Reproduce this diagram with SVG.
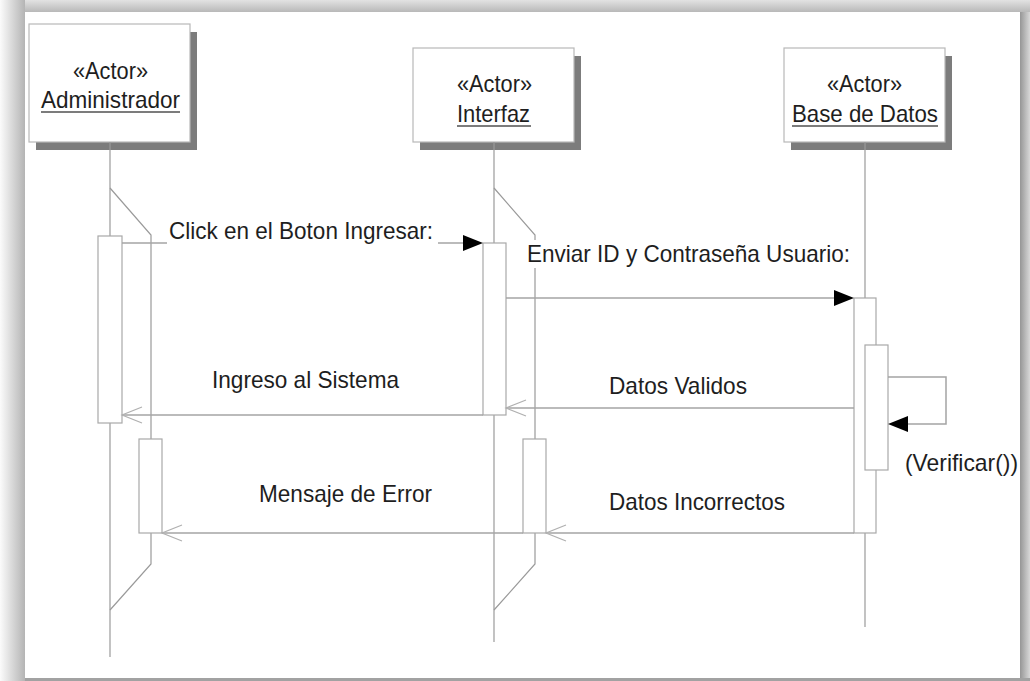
<svg xmlns="http://www.w3.org/2000/svg" width="1030" height="681" viewBox="0 0 1030 681">
<defs>
<linearGradient id="gl" x1="0" y1="0" x2="1" y2="0"><stop offset="0" stop-color="#fbfbfb"/><stop offset="1" stop-color="#b4b4b4"/></linearGradient>
<linearGradient id="gt" x1="0" y1="0" x2="0" y2="1"><stop offset="0" stop-color="#e2e2e2"/><stop offset="1" stop-color="#b8b8b8"/></linearGradient>
<linearGradient id="gr" x1="0" y1="0" x2="1" y2="0"><stop offset="0" stop-color="#969696"/><stop offset="1" stop-color="#d8d8d8"/></linearGradient>
<style>
.box{fill:#fff;stroke:#b8b8b8;stroke-width:1.2}
.shadow{fill:#7c7c7c}
.life{fill:none;stroke:#9a9a9a;stroke-width:1.2}
.act{fill:#fff;stroke:#a8a8a8;stroke-width:1.2}
.msg{fill:none;stroke:#a4a4a4;stroke-width:1.5}
.open{fill:none;stroke:#b0b0b0;stroke-width:1.2}
.fill{fill:#000}
.t{font-family:"Liberation Sans",Arial,sans-serif;font-size:24px;fill:#1e1e1e}
.u{stroke:#505050;stroke-width:1.6}
.bg{fill:#fff}
</style>
</defs>
<rect x="0" y="0" width="1030" height="681" fill="#fff"/>
<rect x="0" y="0" width="25" height="681" fill="url(#gl)"/>
<rect x="25" y="0" width="1005" height="12" fill="url(#gt)"/>
<rect x="1020" y="12" width="10" height="669" fill="url(#gr)"/>
<rect x="25" y="678" width="1005" height="3" fill="#a2a2a2"/>

<g id="admin">
<rect class="shadow" x="36" y="32" width="161" height="118"/>
<rect class="box" x="29" y="24" width="161" height="118"/>
<text class="t" x="73" y="79" textLength="75" lengthAdjust="spacingAndGlyphs">«Actor»</text>
<text class="t" x="41" y="108" textLength="139" lengthAdjust="spacingAndGlyphs">Administrador</text>
<line class="u" x1="41" y1="112" x2="180" y2="112"/>
<line class="life" x1="110" y1="142" x2="110" y2="657"/>
<polyline class="life" points="110,188 151,235 151,439"/>
<polyline class="life" points="151,533 151,564 110,610"/>
<rect class="act" x="98" y="236" width="24" height="187"/>
<rect class="act" x="139" y="439" width="23" height="94"/>
</g>

<g id="interfaz">
<rect class="shadow" x="420" y="56" width="161" height="94"/>
<rect class="box" x="413" y="48" width="161" height="94"/>
<text class="t" x="457" y="92" textLength="75" lengthAdjust="spacingAndGlyphs">«Actor»</text>
<text class="t" x="457" y="122" textLength="73" lengthAdjust="spacingAndGlyphs">Interfaz</text>
<line class="u" x1="457" y1="126" x2="531" y2="126"/>
<line class="life" x1="494" y1="142" x2="494" y2="642"/>
<polyline class="life" points="494,188 535,235 535,439"/>
<polyline class="life" points="535,533 535,564 494,610"/>
<rect class="act" x="483" y="243" width="23" height="172"/>
<rect class="act" x="523" y="439" width="23" height="94"/>
</g>

<g id="base">
<rect class="shadow" x="791" y="56" width="161" height="94"/>
<rect class="box" x="784" y="48" width="161" height="94"/>
<text class="t" x="827" y="92" textLength="75" lengthAdjust="spacingAndGlyphs">«Actor»</text>
<text class="t" x="792" y="122" textLength="146" lengthAdjust="spacingAndGlyphs">Base de Datos</text>
<line class="u" x1="792" y1="126" x2="938" y2="126"/>
<line class="life" x1="865" y1="142" x2="865" y2="627"/>
<rect class="act" x="854" y="298" width="22" height="235"/>
<rect class="act" x="865" y="345" width="23" height="125"/>
</g>

<g id="connectors">
<g id="m1">
<line class="msg" x1="122" y1="243" x2="464" y2="243"/>
<polygon class="fill" points="483,243 463,235 463,251"/>
<rect class="bg" x="167" y="219" width="271" height="27"/>
<text class="t" x="169" y="239" textLength="264" lengthAdjust="spacingAndGlyphs">Click en el Boton Ingresar:</text>
</g>
<g id="m2">
<line class="msg" x1="506" y1="298" x2="835" y2="298"/>
<polygon class="fill" points="854,298 834,290 834,306"/>
<rect class="bg" x="524" y="240" width="329" height="28"/>
<text class="t" x="527" y="262" textLength="323" lengthAdjust="spacingAndGlyphs">Enviar ID y Contraseña Usuario:</text>
</g>
<g id="m3">
<line class="msg" x1="854" y1="408" x2="506" y2="408"/>
<polyline class="open" points="526,400 506,408 526,416"/>
<text class="t" x="609" y="394" textLength="138" lengthAdjust="spacingAndGlyphs">Datos Validos</text>
</g>
<g id="m4">
<line class="msg" x1="483" y1="415" x2="122" y2="415"/>
<polyline class="open" points="142,407 122,415 142,423"/>
<text class="t" x="212" y="388" textLength="187" lengthAdjust="spacingAndGlyphs">Ingreso al Sistema</text>
</g>
<g id="self">
<polyline class="msg" points="888,377 946,377 946,424 907,424"/>
<polygon class="fill" points="888,424 908,416 908,432"/>
<text class="t" x="905" y="471" textLength="113" lengthAdjust="spacingAndGlyphs">(Verificar())</text>
</g>
<g id="m5">
<line class="msg" x1="854" y1="533" x2="546" y2="533"/>
<polyline class="open" points="566,525 546,533 566,541"/>
<text class="t" x="609" y="510" textLength="176" lengthAdjust="spacingAndGlyphs">Datos Incorrectos</text>
</g>
<g id="m6">
<line class="msg" x1="523" y1="533" x2="162" y2="533"/>
<polyline class="open" points="182,525 162,533 182,541"/>
<text class="t" x="259" y="502" textLength="173" lengthAdjust="spacingAndGlyphs">Mensaje de Error</text>
</g>
</g>
</svg>
